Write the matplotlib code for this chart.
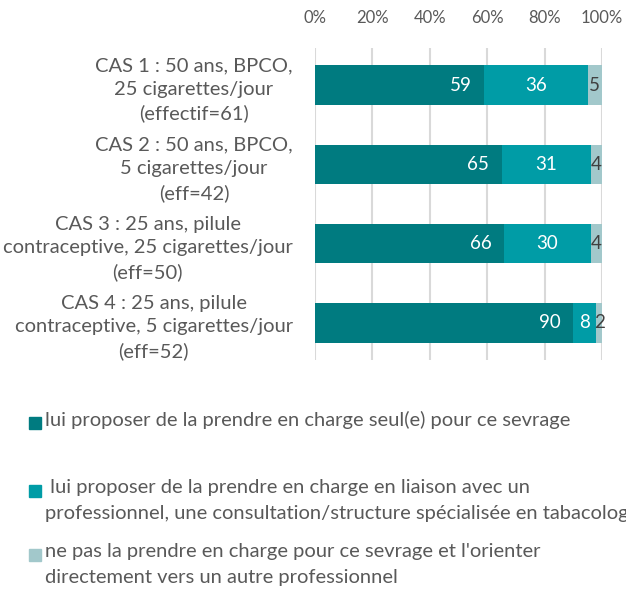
import matplotlib
matplotlib.use("Agg")
import matplotlib.pyplot as plt
from matplotlib.patches import Rectangle
import numpy as np

plt.rcParams["font.family"] = ["Lato", "DejaVu Sans"]

cases = [
    "CAS 1 : 50 ans, BPCO,\n25 cigarettes/jour\n(effectif=61)",
    "CAS 2 : 50 ans, BPCO,\n5 cigarettes/jour\n(eff=42)",
    "CAS 3 : 25 ans, pilule\ncontraceptive, 25 cigarettes/jour\n(eff=50)",
    "CAS 4 : 25 ans, pilule\ncontraceptive, 5 cigarettes/jour\n(eff=52)",
]
seul = [59, 65, 66, 90]
liaison = [36, 31, 30, 8]
orienter = [5, 4, 4, 2]

series_labels = [
    "lui proposer de la prendre en charge seul(e) pour ce sevrage",
    " lui proposer de la prendre en charge en liaison avec un\n"
    "professionnel, une consultation/structure spécialisée en tabacologie",
    "ne pas la prendre en charge pour ce sevrage et l'orienter\n"
    "directement vers un autre professionnel",
]
colors = ["#007B80", "#009CA6", "#A2C8CB"]
text_grey = "#595959"

W, H = 626, 589
fig = plt.figure(figsize=(W / 100, H / 100), dpi=100)
ax = fig.add_axes([315 / W, 1 - 360 / H, 287 / W, 312 / H])

y = np.arange(len(cases))
left = np.zeros(len(cases))
series = [seul, liaison, orienter]
for i, vals in enumerate(series):
    vals = np.array(vals, dtype=float)
    ax.barh(y, vals, left=left, height=0.5, color=colors[i], zorder=3)
    for yy, l, v in zip(y, left, vals):
        if i == 0:
            ax.text(l + v - 4.5, yy, f"{v:.0f}", ha="right", va="center",
                    color="white", fontsize=13.5, zorder=4)
        elif i == 1:
            ax.text(l + v / 2, yy, f"{v:.0f}", ha="center", va="center",
                    color="white", fontsize=13.5, zorder=4)
        else:
            ax.text(l + v / 2, yy, f"{v:.0f}", ha="center", va="center",
                    color="#404040", fontsize=13.5, zorder=4)
    left += vals

ax.set_xlim(0, 100)
ax.set_ylim(3.47, -0.47)
ax.set_xticks(np.arange(0, 101, 20))
ax.set_xticklabels([f"{t}%" for t in range(0, 101, 20)])
ax.xaxis.tick_top()
ax.tick_params(axis="x", length=0, pad=15.5, labelsize=12, labelcolor=text_grey)
ax.set_yticks(y)
ax.set_yticklabels(cases, multialignment="center", linespacing=1.45)
ax.tick_params(axis="y", length=0, pad=16, labelsize=14.5, labelcolor=text_grey)
ax.grid(axis="x", color="#D9D9D9", linewidth=1.5, zorder=0)
for s in ax.spines.values():
    s.set_visible(False)

# legend, placed by hand under the plot
leg_y = [423, 491, 555]
for lab, c, yp in zip(series_labels, colors, leg_y):
    fig.patches.append(Rectangle((29 / W, 1 - (yp + 6) / H), 12 / W, 12 / H,
                                 transform=fig.transFigure, color=c))
    fig.text(45 / W, 1 - (yp - 12) / H, lab, ha="left", va="top",
             fontsize=14.5, color=text_grey, linespacing=1.62)

fig.savefig("out.png", dpi=100)
